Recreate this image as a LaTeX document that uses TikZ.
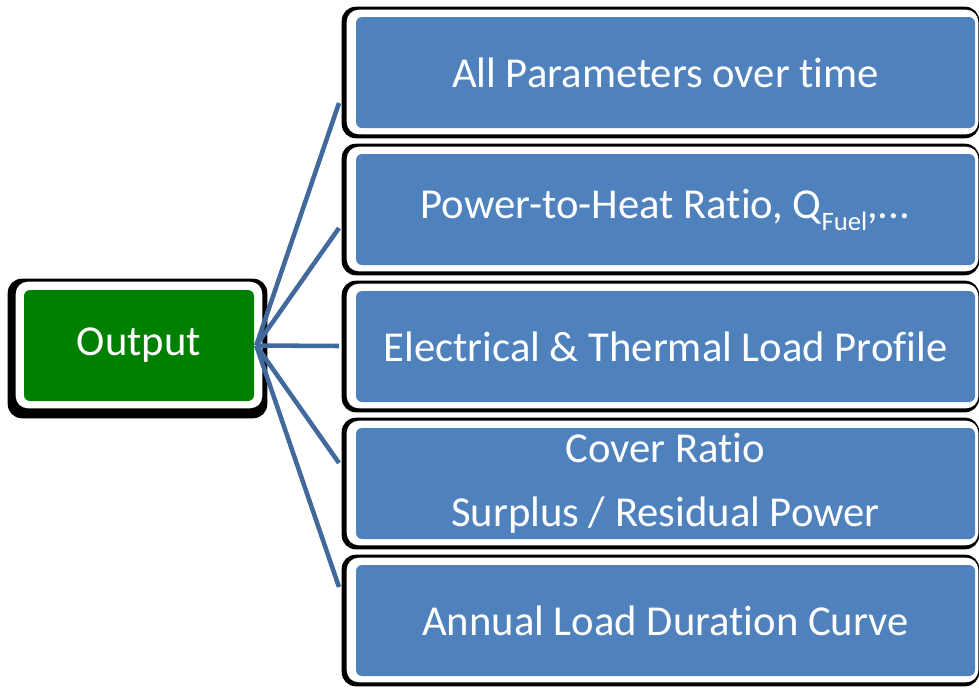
\documentclass[tikz,border=0pt]{standalone}
\usepackage{fontspec}
\setmainfont[Ligatures=NoCommon]{Carlito}
\usetikzlibrary{positioning, backgrounds}
\definecolor{boxblue}{HTML}{4F81BD}
\definecolor{linkblue}{HTML}{41699B}
\definecolor{outgreen}{HTML}{008000}
\tikzset{
  item/.style={fill=boxblue, rounded corners=4.5pt, minimum width=464.25pt, minimum height=83.25pt,
    inner sep=0pt, text=white, font=\fontsize{32}{48}\selectfont, align=center},
  outbox/.style={item, fill=outgreen, minimum width=172.5pt},
  link/.style={draw=linkblue, line width=3.4pt}
}
\begin{document}
\begin{tikzpicture}[x=0.75pt, y=-0.75pt]
\useasboundingbox (0,0) rectangle (979,690);
% Output
\node[outbox] (out) at (139,345.5) {Output};
% Items
\node[item] (p1) at (665.5,72.5) {All Parameters over time};
\node[item, below=19.1pt of p1] (p2) {Power-to-Heat Ratio, Q\raisebox{-9pt}{\fontsize{20}{20}\selectfont Fuel},...};
\node[item, below=19.1pt of p2] (p3) {Electrical \& Thermal Load Profile};
\node[item, below=19.1pt of p3] (p4) {Cover Ratio\\Surplus / Residual Power};
\node[item, below=19.1pt of p4] (p5) {Annual Load Duration Curve};
% Frames
\begin{scope}[on background layer]
\fill[black, rounded corners=10.5pt] ([xshift=-12pt, yshift=8.25pt]out.north west) rectangle ([xshift=9.75pt, yshift=-12.75pt]out.south east);
\fill[white, rounded corners=9pt] ([xshift=-6pt, yshift=6pt]out.north west) rectangle ([xshift=6pt, yshift=-5.25pt]out.south east);
\foreach \i in {1,...,5} {
  \fill[black, rounded corners=10.5pt] ([xshift=-10.5pt, yshift=7.5pt]p\i.north west) rectangle ([xshift=3pt, yshift=-7.5pt]p\i.south east);
  \fill[white, rounded corners=9pt] ([xshift=-6.75pt, yshift=5.25pt]p\i.north west) rectangle ([xshift=2.25pt, yshift=-4.5pt]p\i.south east);
}
\end{scope}
% Connectors
\coordinate (e1) at (339,103);
\coordinate (e2) at (339,228);
\coordinate (e3) at (339,346);
\coordinate (e4) at (339,463);
\coordinate (e5) at (339,587);
\foreach \i in {1,...,5}
  \draw[link] ([xshift=1.5pt]out.east) -- (e\i);
\end{tikzpicture}
\end{document}
